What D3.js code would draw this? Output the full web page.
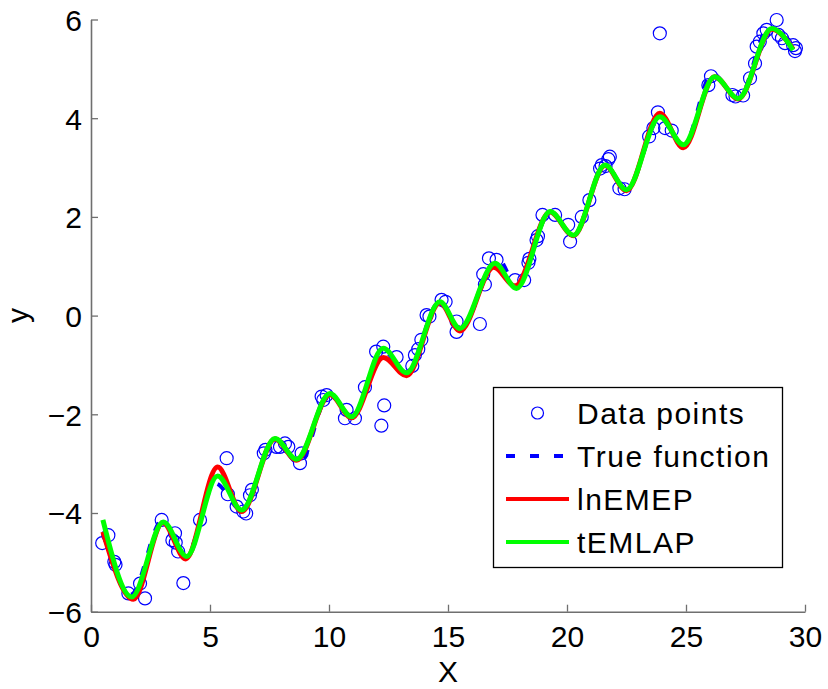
<!DOCTYPE html>
<html>
<head>
<meta charset="utf-8">
<script src="https://cdn.jsdelivr.net/npm/d3@7"></script>
<style>
  html, body { margin: 0; padding: 0; background: #fff; }
  svg { display: block; font-family: "Liberation Sans", Arial, Helvetica, sans-serif; }
</style>
</head>
<body>
<svg id="chart" width="828" height="689"></svg>
<script>
// Noisy observations
const pointsX = [0.47, 0.73, 0.98, 1.03, 1.57, 2.06, 2.27, 2.97, 3.42, 3.53, 3.56, 3.66, 3.88, 4.58,
  5.70, 5.75, 6.12, 6.40, 6.52, 6.68, 6.76, 7.26, 7.33, 7.79, 7.94, 8.15, 8.29, 8.78, 8.85,
  9.69, 9.76, 9.90, 10.74, 10.67, 11.09, 11.51, 12.32, 12.20, 11.98, 12.28, 12.84, 13.50, 13.61,
  13.75, 13.88, 14.10, 14.22, 14.73, 14.90, 15.36, 15.36, 16.34, 16.48, 16.55, 16.72, 17.04,
  17.82, 18.20, 18.38, 18.42, 18.72, 18.78, 18.97, 19.50, 20.05, 20.13, 20.62, 20.94, 21.39,
  21.46, 21.62, 21.74, 21.80, 22.20, 22.42, 23.45, 23.63, 23.82, 23.90, 24.12, 24.40, 25.94,
  26.05, 26.95, 27.08, 27.40, 27.69, 27.90, 27.97, 28.10, 28.25, 28.39, 28.81, 28.88, 29.03,
  29.16, 29.50, 29.62, 29.58];
const pointsY = [-4.61, -4.45, -4.99, -5.05, -5.63, -5.43, -5.73, -4.14, -4.55, -4.41, -4.60, -4.78, -5.42, -4.14,
  -2.89, -3.62, -3.87, -3.97, -4.01, -3.64, -3.53, -2.79, -2.72, -2.66, -2.66, -2.59, -2.66, -2.99, -2.79,
  -1.64, -1.71, -1.61, -1.91, -2.08, -2.08, -1.45, -1.82, -2.23, -0.73, -0.63, -0.84, -1.02, -0.80,
  -0.68, -0.49, 0.01, -0.02, 0.32, 0.28, -0.12, -0.33, -0.17, 0.84, 0.63, 1.16, 1.13,
  0.72, 0.72, 1.07, 1.15, 1.53, 1.61, 2.04, 2.04, 1.84, 1.50, 2.00, 2.34, 2.98,
  3.05, 3.03, 3.17, 3.22, 2.58, 2.56, 3.63, 3.80, 4.12, 5.72, 3.80, 3.75, 4.67,
  4.85, 4.47, 4.44, 4.46, 4.81, 5.11, 5.45, 5.55, 5.72, 5.79, 5.99, 5.69, 5.62,
  5.52, 5.48, 5.42, 5.36];

// Underlying function (turning points)
const trueX = [0.50, 1.68, 3.00, 4.00, 5.22, 6.35, 7.70, 8.75, 10.00, 10.95, 12.25, 13.25, 14.65, 15.50,
  17.10, 17.90, 19.30, 20.25, 21.60, 22.50, 23.90, 24.90, 26.10, 27.20, 28.50, 29.50];
const trueY = [-4.40, -5.65, -4.15, -4.85, -3.40, -3.95, -2.50, -3.00, -1.60, -2.05, -0.70, -1.15, 0.28, -0.27,
  1.15, 0.58, 2.10, 1.62, 3.05, 2.55, 4.00, 3.45, 4.90, 4.40, 5.85, 5.40];

// lnEMEP estimate
const lnemepX = [0.50, 1.78, 3.02, 3.98, 5.32, 6.33, 7.73, 8.64, 10.04, 10.95, 12.28, 13.26, 14.66, 15.50,
  16.92, 17.82, 19.29, 20.27, 21.60, 22.50, 23.90, 24.89, 26.20, 27.20, 28.60, 29.50];
const lnemepY = [-4.38, -5.75, -4.20, -4.93, -3.07, -3.97, -2.50, -2.93, -1.60, -2.07, -0.85, -1.22, 0.26, -0.31,
  0.98, 0.60, 2.10, 1.62, 3.04, 2.53, 4.10, 3.40, 4.84, 4.39, 5.80, 5.40];

// tEMLAP estimate
const temlapX = [0.50, 1.71, 3.04, 4.02, 5.32, 6.33, 7.73, 8.64, 10.04, 10.95, 12.28, 13.26, 14.66, 15.50,
  16.97, 17.88, 19.29, 20.27, 21.60, 22.50, 23.90, 24.89, 26.20, 27.20, 28.60, 29.50];
const temlapY = [-4.14, -5.70, -4.18, -4.88, -3.25, -3.94, -2.49, -2.91, -1.58, -2.05, -0.66, -1.16, 0.28, -0.26,
  1.06, 0.55, 2.11, 1.63, 3.05, 2.55, 4.03, 3.46, 4.84, 4.40, 5.82, 5.38];

const xTicks = [0, 5, 10, 15, 20, 25, 30];
const yTicks = [-6, -4, -2, 0, 2, 4, 6];
const legendLabels = ["Data points", "True function", "lnEMEP", "tEMLAP"];

const svg = d3.select("#chart");
const x = d3.scaleLinear().domain([0, 30]).range([91, 805]);
const y = d3.scaleLinear().domain([-6, 6]).range([611.7, 19.5]);

const axisColor = "#6f6f6f";

// Axes: left and bottom only, ticks pointing inward
const gx = svg.append("g")
  .attr("transform", `translate(0,${y(-6)})`)
  .call(d3.axisBottom(x).tickValues(xTicks).tickSizeInner(-7).tickSizeOuter(0).tickPadding(14).tickFormat(d3.format("d")));
const gy = svg.append("g")
  .attr("transform", `translate(${x(0)},0)`)
  .call(d3.axisLeft(y).tickValues(yTicks).tickSizeInner(-7).tickSizeOuter(0).tickPadding(9).tickFormat(d3.format("d")));

[gx, gy].forEach(g => {
  g.select(".domain").attr("stroke", axisColor).attr("stroke-width", 1.6);
  g.selectAll(".tick line").attr("stroke", axisColor).attr("stroke-width", 1.3);
  g.selectAll(".tick text").attr("fill", "#000").style("font-size", "30px")
    .style("font-family", "'Liberation Sans', Arial, sans-serif");
});
gy.selectAll(".tick text").attr("dy", "0.36em");

// Axis titles
svg.append("text").attr("x", (x(0) + x(30)) / 2).attr("y", 682)
  .attr("text-anchor", "middle").style("font-size", "30px").text("X");
svg.append("text").attr("transform", `translate(28,${y(0)}) rotate(-90)`)
  .attr("text-anchor", "middle").style("font-size", "30px").text("y");

// Data points
svg.append("g").selectAll("circle")
  .data(pointsX.map((d, i) => [d, pointsY[i]]))
  .join("circle")
  .attr("cx", d => x(d[0])).attr("cy", d => y(d[1])).attr("r", 6.5)
  .attr("fill", "none").attr("stroke", "#0000ff").attr("stroke-width", 1.2);

const line = d3.line().x(d => x(d[0])).y(d => y(d[1])).curve(d3.curveMonotoneX);
const zip = (a, b) => a.map((d, i) => [d, b[i]]);

svg.append("path").datum(zip(trueX, trueY)).attr("d", line)
  .attr("fill", "none").attr("stroke", "#0000ff").attr("stroke-width", 4).attr("stroke-dasharray", "9,14");
svg.append("path").datum(zip(lnemepX, lnemepY)).attr("d", line)
  .attr("fill", "none").attr("stroke", "#ff0000").attr("stroke-width", 5);
svg.append("path").datum(zip(temlapX, temlapY)).attr("d", line)
  .attr("fill", "none").attr("stroke", "#00ff00").attr("stroke-width", 5);

// Legend
const lg = svg.append("g");
lg.append("rect").attr("x", 493.5).attr("y", 387.5).attr("width", 289).attr("height", 180)
  .attr("fill", "#fff").attr("stroke", "#000").attr("stroke-width", 1.3);
const rowY = [413, 456, 499, 542];
const lx0 = 506, lx1 = 569;
lg.append("circle").attr("cx", (lx0 + lx1) / 2).attr("cy", rowY[0]).attr("r", 6)
  .attr("fill", "none").attr("stroke", "#0000ff").attr("stroke-width", 1.2);
lg.append("line").attr("x1", lx0).attr("x2", lx1).attr("y1", rowY[1]).attr("y2", rowY[1])
  .attr("stroke", "#0000ff").attr("stroke-width", 4).attr("stroke-dasharray", "9,15");
lg.append("line").attr("x1", lx0).attr("x2", lx1).attr("y1", rowY[2]).attr("y2", rowY[2])
  .attr("stroke", "#ff0000").attr("stroke-width", 4);
lg.append("line").attr("x1", lx0).attr("x2", lx1).attr("y1", rowY[3]).attr("y2", rowY[3])
  .attr("stroke", "#00ff00").attr("stroke-width", 4);
lg.selectAll("text.lab").data(legendLabels).join("text").attr("class", "lab")
  .attr("x", 577).attr("y", (d, i) => rowY[i] + 11)
  .style("font-size", "30px").style("letter-spacing", "1.5px").text(d => d);
</script>
</body>
</html>
